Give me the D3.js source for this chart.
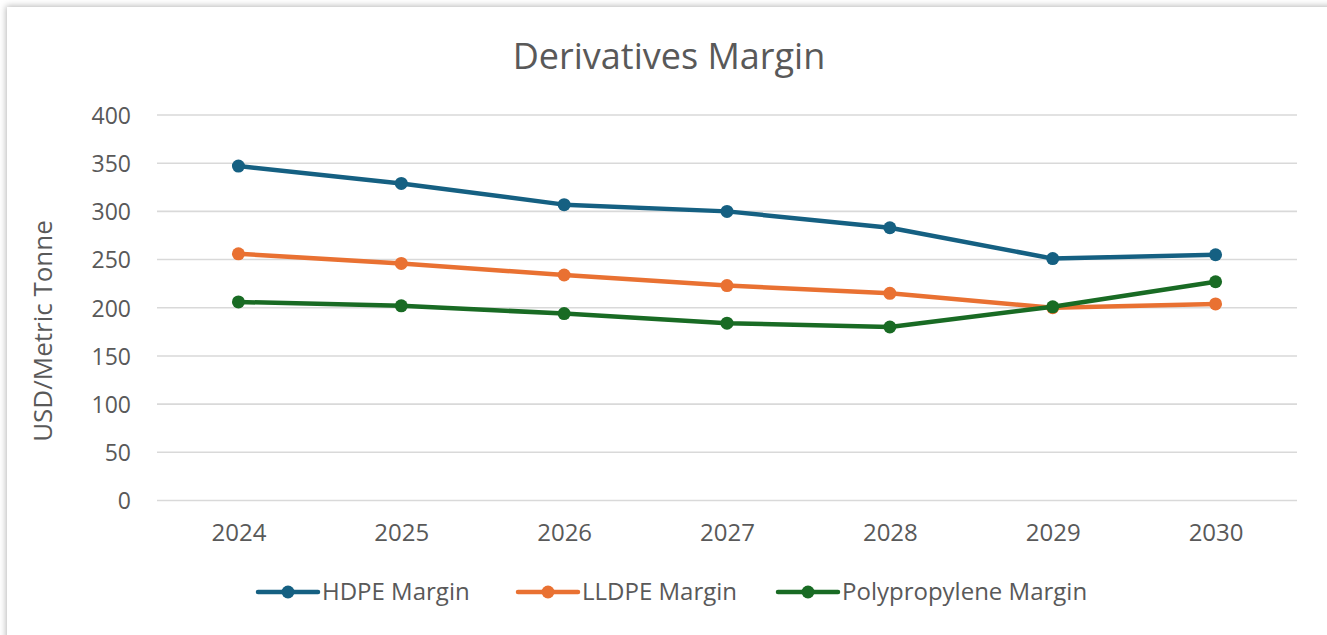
<!DOCTYPE html>
<html>
<head>
<meta charset="utf-8">
<script src="https://cdn.jsdelivr.net/npm/d3@7"></script>
<style>
  html, body { margin: 0; padding: 0; background: #ffffff; overflow: hidden; }
  svg { display: block; }
  text { font-family: "Open Sans", "Liberation Sans", sans-serif; }
</style>
</head>
<body>
<svg id="chart" width="1327" height="635"></svg>
<script>
// Margin per metric tonne of polymer derivatives
const years = ["2024", "2025", "2026", "2027", "2028", "2029", "2030"];
const hdpeMargin  = [347, 329, 307, 300, 283, 251, 255];
const lldpeMargin = [256, 246, 234, 223, 215, 200, 204];
const ppMargin    = [206, 202, 194, 184, 180, 201, 227];
const seriesNames = ["HDPE Margin", "LLDPE Margin", "Polypropylene Margin"];
const yTicks = [0, 50, 100, 150, 200, 250, 300, 350, 400];

const colors = ["#156082", "#E97132", "#196B24"];
const series = [hdpeMargin, lldpeMargin, ppMargin].map((values, i) => ({
  name: seriesNames[i], color: colors[i], values
}));

const svg = d3.select("#chart");
const W = 1327, H = 635;

// card with a soft shadow on its upper-left edges
const defs = svg.append("defs");
const f = defs.append("filter").attr("id", "cardShadow")
  .attr("filterUnits", "userSpaceOnUse")
  .attr("x", -20).attr("y", -20).attr("width", W + 200).attr("height", H + 200);
f.append("feDropShadow").attr("dx", -1).attr("dy", -1)
  .attr("stdDeviation", 3).attr("flood-color", "#000").attr("flood-opacity", 0.28);
svg.append("rect").attr("width", W).attr("height", H).attr("fill", "#ffffff");
svg.append("rect").attr("x", 7).attr("y", 7).attr("width", W + 100).attr("height", H + 100)
  .attr("fill", "#ffffff").attr("filter", "url(#cardShadow)");

const plot = { left: 157, right: 1297, top: 115, bottom: 500.5 };

const x = d3.scalePoint().domain(years).range([plot.left, plot.right]).padding(0.5);
const y = d3.scaleLinear().domain([0, 400]).range([plot.bottom, plot.top]);

// horizontal gridlines
svg.append("g")
  .selectAll("line").data(yTicks).join("line")
  .attr("x1", plot.left).attr("x2", plot.right)
  .attr("y1", d => y(d)).attr("y2", d => y(d))
  .attr("stroke", "#d9d9d9").attr("stroke-width", 1.6);

// y axis labels
const yAxis = svg.append("g").attr("transform", `translate(${plot.left - 26},0)`)
  .call(d3.axisLeft(y).tickValues(yTicks).tickSize(0).tickPadding(0));
yAxis.select(".domain").remove();
yAxis.selectAll("text").attr("font-size", 23).attr("fill", "#595959")
  .attr("font-family", "'Open Sans', sans-serif").attr("dy", "0.36em");

// x axis labels
const xAxis = svg.append("g").attr("transform", `translate(0,${plot.bottom + 23})`)
  .call(d3.axisBottom(x).tickSize(0).tickPadding(0));
xAxis.select(".domain").remove();
xAxis.selectAll("text").attr("font-size", 24).attr("fill", "#595959")
  .attr("font-family", "'Open Sans', sans-serif").attr("dy", "0.71em");

// title
svg.append("text").attr("x", 669).attr("y", 69).attr("text-anchor", "middle")
  .attr("font-size", 36).attr("fill", "#595959").text("Derivatives Margin");

// y axis title
svg.append("text").attr("transform", "translate(52,331) rotate(-90)")
  .attr("text-anchor", "middle").attr("font-size", 26).attr("fill", "#595959")
  .text("USD/Metric Tonne");

// lines and markers
const line = d3.line().x((d, i) => x(years[i])).y(d => y(d));
const g = svg.append("g");
series.forEach(s => {
  g.append("path").attr("d", line(s.values)).attr("fill", "none")
    .attr("stroke", s.color).attr("stroke-width", 4.5)
    .attr("stroke-linejoin", "round").attr("stroke-linecap", "round");
  g.selectAll(null).data(s.values).join("circle")
    .attr("cx", (d, i) => x(years[i])).attr("cy", d => y(d))
    .attr("r", 6.5).attr("fill", s.color);
});

// legend
const legendX = [258, 518, 778];
const legendY = 592;
const lg = svg.append("g");
series.forEach((s, i) => {
  const lx = legendX[i];
  lg.append("line").attr("x1", lx).attr("x2", lx + 60)
    .attr("y1", legendY).attr("y2", legendY)
    .attr("stroke", s.color).attr("stroke-width", 4.5).attr("stroke-linecap", "round");
  lg.append("circle").attr("cx", lx + 30).attr("cy", legendY).attr("r", 6.5).attr("fill", s.color);
  lg.append("text").attr("x", lx + 64).attr("y", legendY).attr("dy", "0.35em")
    .attr("font-size", 24).attr("fill", "#595959").text(s.name);
});
</script>
</body>
</html>
